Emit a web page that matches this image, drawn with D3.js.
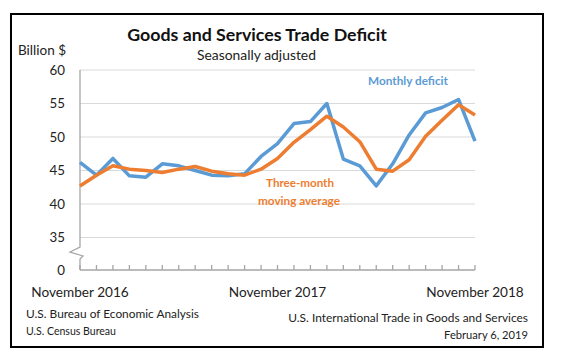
<!DOCTYPE html>
<html>
<head>
<meta charset="utf-8">
<script src="https://cdn.jsdelivr.net/npm/d3@7"></script>
<style>
  body { margin: 0; background: #fff; }
  text { font-family: Lato, "Open Sans", sans-serif; }
</style>
</head>
<body>
<script>
// monthly data, Nov 2016 .. Nov 2018 (billions of dollars)
var months = ["2016-11", "2016-12", "2017-01", "2017-02", "2017-03", "2017-04", "2017-05",
  "2017-06", "2017-07", "2017-08", "2017-09", "2017-10", "2017-11", "2017-12",
  "2018-01", "2018-02", "2018-03", "2018-04", "2018-05", "2018-06", "2018-07",
  "2018-08", "2018-09", "2018-10", "2018-11"];
var monthlyDeficit = [46.2, 44.3, 46.8, 44.2, 44.0, 46.0, 45.7, 45.0, 44.3, 44.2, 44.5, 47.1,
  49.0, 52.0, 52.3, 55.0, 46.7, 45.7, 42.7, 46.0, 50.3, 53.6, 54.4, 55.6, 49.4];
var movingAverage = [42.7, 44.3, 45.7, 45.2, 45.0, 44.7, 45.2, 45.6, 44.9, 44.5, 44.3, 45.2,
  46.8, 49.2, 51.1, 53.1, 51.5, 49.3, 45.2, 44.9, 46.6, 50.1, 52.5, 54.8, 53.3];
var yTicks = [0, 35, 40, 45, 50, 55, 60];
var xLabels = [
  {month: "2016-11", text: "November 2016"},
  {month: "2017-11", text: "November 2017"},
  {month: "2018-11", text: "November 2018"}
];

var width = 561, height = 361;
var blue = "#5b9bd5", orange = "#ed7d31";

var svg = d3.select("body").append("svg")
    .attr("width", width)
    .attr("height", height);

svg.append("rect")
    .attr("x", 11).attr("y", 14)
    .attr("width", 532).attr("height", 333)
    .attr("fill", "#fff")
    .attr("stroke", "#000")
    .attr("stroke-width", 2);

var x = d3.scalePoint().domain(months).range([80, 475]);
// broken axis: 0 sits just under the 35 line
var y = d3.scaleLinear().domain([0, 35, 60]).range([270, 237.5, 70]);

// shrink/grow a text to a given width
function fit(sel, w) {
  sel.each(function () {
    var t = d3.select(this);
    var fs = parseFloat(t.style("font-size"));
    var len = this.getComputedTextLength();
    t.style("font-size", (fs * w / len).toFixed(2) + "px");
  });
  return sel;
}

// gridlines
svg.append("g").selectAll("line")
    .data(yTicks.filter(function (d) { return d > 0; }))
    .enter().append("line")
    .attr("x1", x.range()[0]).attr("x2", x.range()[1])
    .attr("y1", function (d) { return y(d); })
    .attr("y2", function (d) { return y(d); })
    .attr("stroke", "#d9d9d9")
    .attr("stroke-width", 1);

// y axis with break
var axisColor = "#a6a6a6";
var x0 = x.range()[0];
svg.append("path")
    .attr("d", d3.line()([[x0, y(60)], [x0, 247], [70, 252], [83, 256], [x0, 259], [x0, y(0)]]))
    .attr("fill", "none")
    .attr("stroke", axisColor)
    .attr("stroke-width", 1.3);

// x axis with ticks pointing up
svg.append("line")
    .attr("x1", x0).attr("x2", x.range()[1])
    .attr("y1", y(0)).attr("y2", y(0))
    .attr("stroke", axisColor)
    .attr("stroke-width", 1.3);
svg.append("g").selectAll("line")
    .data(months)
    .enter().append("line")
    .attr("x1", function (d) { return x(d); })
    .attr("x2", function (d) { return x(d); })
    .attr("y1", y(0)).attr("y2", y(0) - 5)
    .attr("stroke", axisColor)
    .attr("stroke-width", 1.3);

// y tick labels
svg.append("g").selectAll("text")
    .data(yTicks)
    .enter().append("text")
    .attr("x", 65)
    .attr("y", function (d) { return y(d); })
    .attr("dy", "0.35em")
    .attr("text-anchor", "end")
    .style("font-size", "13.3px")
    .attr("fill", "#222")
    .text(function (d) { return d; });

// x labels
svg.append("g").selectAll("text")
    .data(xLabels)
    .enter().append("text")
    .attr("x", function (d) { return x(d.month); })
    .attr("y", 297)
    .attr("text-anchor", "middle")
    .style("font-size", "13.6px")
    .attr("fill", "#222")
    .text(function (d) { return d.text; });

// lines
var line = d3.line()
    .x(function (d, i) { return x(months[i]); })
    .y(function (d) { return y(d); });

svg.append("path")
    .datum(monthlyDeficit)
    .attr("d", line)
    .attr("fill", "none")
    .attr("stroke", blue)
    .attr("stroke-width", 3.5)
    .attr("stroke-linejoin", "round");

svg.append("path")
    .datum(movingAverage)
    .attr("d", line)
    .attr("fill", "none")
    .attr("stroke", orange)
    .attr("stroke-width", 3.5)
    .attr("stroke-linejoin", "round");

// titles
fit(svg.append("text")
    .attr("x", 257).attr("y", 41)
    .attr("text-anchor", "middle")
    .style("font-size", "17px")
    .style("font-weight", "bold")
    .attr("fill", "#111")
    .text("Goods and Services Trade Deficit"), 260);

fit(svg.append("text")
    .attr("x", 256.5).attr("y", 60)
    .attr("text-anchor", "middle")
    .style("font-size", "13px")
    .attr("fill", "#222")
    .text("Seasonally adjusted"), 119);

fit(svg.append("text")
    .attr("x", 18).attr("y", 55)
    .style("font-size", "13px")
    .attr("fill", "#222")
    .text("Billion $"), 48);

// series labels
fit(svg.append("text")
    .attr("x", 408).attr("y", 85)
    .attr("text-anchor", "middle")
    .style("font-size", "12px")
    .style("font-weight", "bold")
    .attr("fill", blue)
    .text("Monthly deficit"), 80);

fit(svg.append("text")
    .attr("x", 300).attr("y", 187)
    .attr("text-anchor", "middle")
    .style("font-size", "12px")
    .style("font-weight", "bold")
    .attr("fill", orange)
    .text("Three-month"), 68);

fit(svg.append("text")
    .attr("x", 299).attr("y", 204.5)
    .attr("text-anchor", "middle")
    .style("font-size", "12px")
    .style("font-weight", "bold")
    .attr("fill", orange)
    .text("moving average"), 82);

// footers
fit(svg.append("text")
    .attr("x", 26).attr("y", 318)
    .style("font-size", "11px")
    .attr("fill", "#222")
    .text("U.S. Bureau of Economic Analysis"), 173);

fit(svg.append("text")
    .attr("x", 26).attr("y", 335)
    .style("font-size", "11px")
    .attr("fill", "#222")
    .text("U.S. Census Bureau"), 90);

fit(svg.append("text")
    .attr("x", 528).attr("y", 322)
    .attr("text-anchor", "end")
    .style("font-size", "11px")
    .attr("fill", "#222")
    .text("U.S. International Trade in Goods and Services"), 240);

fit(svg.append("text")
    .attr("x", 528).attr("y", 339)
    .attr("text-anchor", "end")
    .style("font-size", "11px")
    .attr("fill", "#222")
    .text("February 6, 2019"), 84);
</script>
</body>
</html>
